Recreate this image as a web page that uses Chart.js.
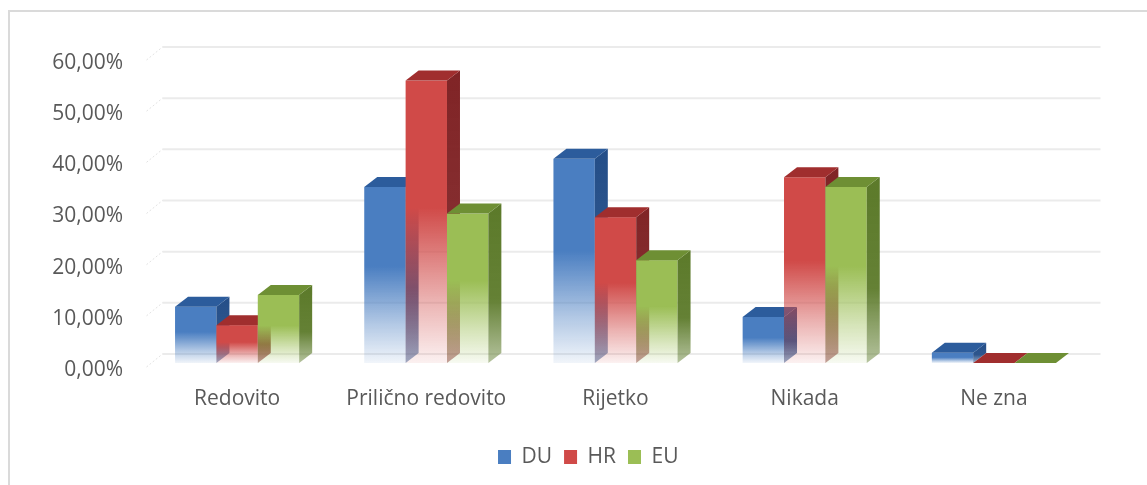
<!DOCTYPE html>
<html>
<head>
<meta charset="utf-8">
<script src="https://cdn.jsdelivr.net/npm/chart.js@4.4.1/dist/chart.umd.min.js"></script>
<style>
  html, body { margin: 0; padding: 0; background: #ffffff; overflow: hidden; width: 1147px; height: 485px; }
  #frame { position: absolute; left: 8px; top: 10px; width: 1200px; height: 600px; border: 2px solid #dadada; box-sizing: border-box; }
  #c { position: absolute; left: 0; top: 0; }
</style>
</head>
<body>
<div id="frame"></div>
<canvas id="c" width="1147" height="485"></canvas>
<script>
// Categories and series (percent values)
const categories = ['Redovito', 'Prilično redovito', 'Rijetko', 'Nikada', 'Ne zna'];
const seriesNames = ['DU', 'HR', 'EU'];
const duValues = [11.0, 34.4, 39.9, 9.0, 2.0];
const hrValues = [7.4, 55.2, 28.5, 36.3, 0];
const euValues = [13.3, 29.2, 20.1, 34.4, 0];
const yMin = 0;
const yMax = 60;
const yStep = 10;

// Face colours for the 3D columns: front, top, side
const palette = [
  { front: [74, 126, 193], top: [44, 92, 156], side: [36, 78, 136] },
  { front: [208, 74, 72],  top: [160, 46, 46], side: [128, 36, 38] },
  { front: [155, 190, 85], top: [110, 143, 52], side: [92, 122, 42] }
];
const rgba = (c, a) => `rgba(${c[0]},${c[1]},${c[2]},${a})`;

const DEPTH_X = 13;   // oblique depth of the columns
const DEPTH_Y = 10;
const FONT = '"Open Sans", Lato, "DejaVu Sans", sans-serif';
const FONT_SIZE = 21;
const TEXT = '#595959';
const LEGEND_SHIFT = 40;

const fmtPct = v => v.toFixed(2).replace('.', ',') + '%';

// Back-wall gridlines with the slanted floor edge, drawn under the columns
const wallGrid = {
  id: 'wallGrid',
  afterLayout(chart) {
    // nudge the legend row to the right of the plot centre
    const lg = chart.legend;
    if (lg) {
      lg.left += LEGEND_SHIFT;
      lg.right += LEGEND_SHIFT;
      if (typeof lg.adjustHitBoxes === 'function') lg.adjustHitBoxes();
    }
  },
  beforeDatasetsDraw(chart) {
    const { ctx, chartArea, scales: { y } } = chart;
    ctx.save();
    y.ticks.forEach(t => {
      const py = y.getPixelForValue(t.value);
      const by = py - DEPTH_Y + 1;
      ctx.strokeStyle = '#ebebeb';
      ctx.lineWidth = 2;
      ctx.beginPath();
      ctx.moveTo(chartArea.left + 20, by);
      ctx.lineTo(chartArea.right + 12, by);
      ctx.stroke();
      ctx.strokeStyle = '#e2e2e2';
      ctx.lineWidth = 1;
      ctx.setLineDash([2, 2]);
      ctx.beginPath();
      ctx.moveTo(chartArea.left + 4, py + 4);
      ctx.lineTo(chartArea.left + 20, by);
      ctx.stroke();
      ctx.setLineDash([]);
    });
    ctx.restore();
  }
};

// Oblique 3D columns built on the bar elements the library laid out
const columns3d = {
  id: 'columns3d',
  afterDatasetsDraw(chart) {
    const { ctx } = chart;
    const metas = chart.data.datasets.map((_, i) => chart.getDatasetMeta(i));
    ctx.save();
    for (let i = 0; i < chart.data.labels.length; i++) {
      metas.forEach((meta, d) => {
        const bar = meta.data[i];
        const { x, y, base, width } = bar.getProps(['x', 'y', 'base', 'width'], true);
        const c = palette[d];
        const left = x - width / 2;
        const right = x + width / 2;
        const h = base - y;

        if (h > 0.5) {
          // front face: solid above, fading out toward the floor
          const gf = ctx.createLinearGradient(0, y, 0, base);
          gf.addColorStop(0, rgba(c.front, 1));
          gf.addColorStop(0.45, rgba(c.front, 1));
          gf.addColorStop(0.78, rgba(c.front, 0.42));
          gf.addColorStop(1, rgba(c.front, 0.08));
          ctx.fillStyle = gf;
          ctx.fillRect(left, y, width, h);

          // right side face
          const gs = ctx.createLinearGradient(0, y - DEPTH_Y, 0, base);
          gs.addColorStop(0, rgba(c.side, 1));
          gs.addColorStop(0.6, rgba(c.side, 0.95));
          gs.addColorStop(1, rgba(c.side, 0.45));
          ctx.fillStyle = gs;
          ctx.beginPath();
          ctx.moveTo(right, y);
          ctx.lineTo(right + DEPTH_X, y - DEPTH_Y);
          ctx.lineTo(right + DEPTH_X, base - DEPTH_Y);
          ctx.lineTo(right, base);
          ctx.closePath();
          ctx.fill();
        }

        // top face
        ctx.fillStyle = rgba(c.top, 1);
        ctx.beginPath();
        ctx.moveTo(left, y);
        ctx.lineTo(left + DEPTH_X, y - DEPTH_Y);
        ctx.lineTo(right + DEPTH_X, y - DEPTH_Y);
        ctx.lineTo(right, y);
        ctx.closePath();
        ctx.fill();
      });
    }
    ctx.restore();
  },
  // soften the lower part of the legend swatches
  afterDraw(chart) {
    const lg = chart.legend;
    if (!lg || !lg.legendHitBoxes) return;
    const { ctx } = chart;
    const opts = lg.options.labels;
    const fs = opts.font.size;
    ctx.save();
    lg.legendHitBoxes.forEach(hb => {
      const top = hb.top + Math.max((fs - opts.boxHeight) / 2, 0);
      const g = ctx.createLinearGradient(0, top, 0, top + opts.boxHeight);
      g.addColorStop(0, 'rgba(255,255,255,0)');
      g.addColorStop(0.6, 'rgba(255,255,255,0)');
      g.addColorStop(1, 'rgba(255,255,255,0.8)');
      ctx.fillStyle = g;
      ctx.fillRect(hb.left, top, opts.boxWidth, opts.boxHeight);
    });
    ctx.restore();
  }
};

const seriesValues = [duValues, hrValues, euValues];

new Chart(document.getElementById('c'), {
  type: 'bar',
  data: {
    labels: categories,
    datasets: seriesNames.map((name, i) => ({
      label: name,
      data: seriesValues[i],
      backgroundColor: 'rgba(0,0,0,0)',
      borderWidth: 0,
      barPercentage: 1,
      categoryPercentage: 0.656
    }))
  },
  options: {
    responsive: false,
    animation: false,
    devicePixelRatio: 1,
    layout: { padding: { left: 8, right: 58.5, top: 56, bottom: 7.5 } },
    plugins: {
      tooltip: { enabled: false },
      legend: {
        position: 'bottom',
        labels: {
          font: { family: FONT, size: FONT_SIZE },
          color: TEXT,
          boxWidth: 13,
          boxHeight: 14,
          padding: 12,
          generateLabels: () => seriesNames.map((n, i) => ({
            text: n,
            fillStyle: rgba(palette[i].front, 1),
            strokeStyle: 'rgba(0,0,0,0)',
            lineWidth: 0,
            fontColor: TEXT,
            datasetIndex: i
          }))
        }
      }
    },
    scales: {
      x: {
        grid: { display: false, drawTicks: false },
        border: { display: false },
        ticks: { font: { family: FONT, size: FONT_SIZE }, color: TEXT, padding: 23.4, maxRotation: 0 },
        afterFit: s => { s.height = 71.5; }
      },
      y: {
        min: yMin,
        max: yMax,
        grid: { display: false, drawTicks: false },
        border: { display: false },
        ticks: {
          stepSize: yStep,
          font: { family: FONT, size: FONT_SIZE },
          color: TEXT,
          padding: 19.5,
          labelOffset: 7,
          callback: v => fmtPct(v)
        },
        afterFit: s => { s.width = 134.5; }
      }
    }
  },
  plugins: [wallGrid, columns3d]
});
</script>
</body>
</html>
